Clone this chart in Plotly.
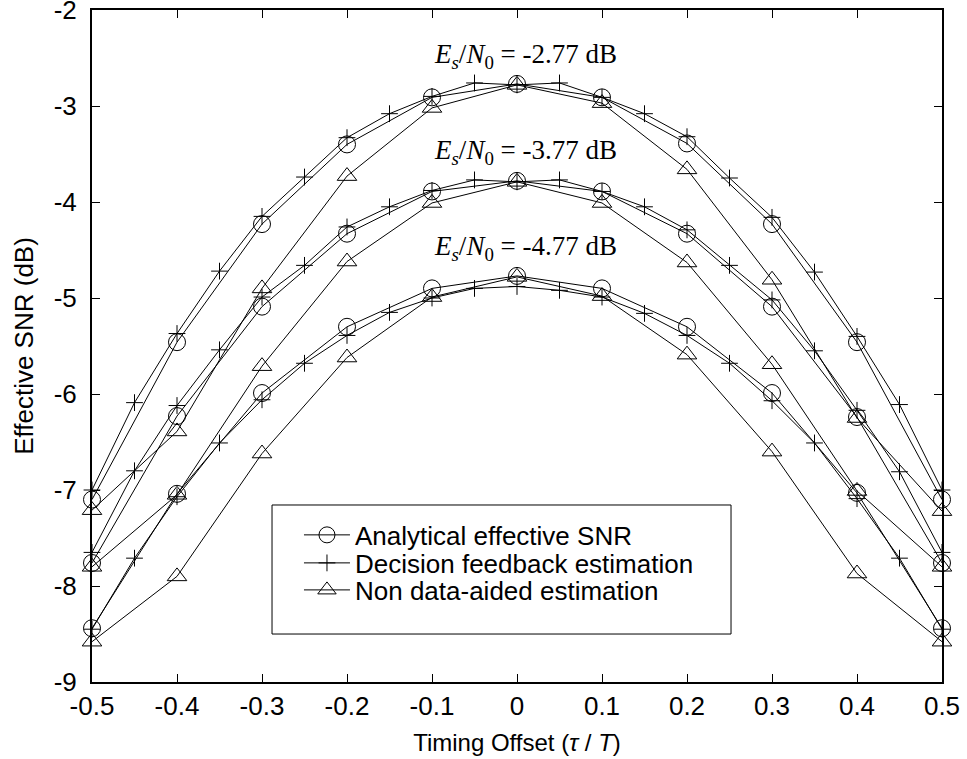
import plotly.graph_objects as go

# ---- data ----
x_ana = [-0.5, -0.4, -0.3, -0.2, -0.1, 0.0, 0.1, 0.2, 0.3, 0.4, 0.5]
x_df = [-0.5, -0.45, -0.4, -0.35, -0.3, -0.25, -0.2, -0.15, -0.1, -0.05, 0.0,
        0.05, 0.1, 0.15, 0.2, 0.25, 0.3, 0.35, 0.4, 0.45, 0.5]
x_nda = [-0.5, -0.4, -0.3, -0.2, -0.1, 0.0, 0.1, 0.2, 0.3, 0.4, 0.5]

ana_277 = [-7.10, -5.46, -4.23, -3.40, -2.91, -2.77, -2.91, -3.39, -4.23, -5.46, -7.10]
ana_377 = [-7.76, -6.23, -5.09, -4.33, -3.89, -3.78, -3.89, -4.33, -5.09, -6.24, -7.76]
ana_477 = [-8.44, -7.04, -5.99, -5.30, -4.90, -4.77, -4.90, -5.30, -5.99, -7.03, -8.44]

df_277 = [-7.00, -6.09, -5.37, -4.72, -4.15, -3.74, -3.33, -3.08, -2.90, -2.76, -2.78,
          -2.76, -2.91, -3.08, -3.32, -3.75, -4.16, -4.73, -5.40, -6.11, -7.00]
df_377 = [-7.65, -6.80, -6.12, -5.54, -4.99, -4.66, -4.26, -4.05, -3.88, -3.77, -3.79,
          -3.77, -3.89, -4.05, -4.29, -4.66, -5.02, -5.55, -6.17, -6.81, -7.65]
df_477 = [-8.45, -7.71, -7.07, -6.51, -6.06, -5.68, -5.39, -5.15, -5.00, -4.90, -4.88,
          -4.92, -4.99, -5.16, -5.39, -5.68, -6.07, -6.51, -7.09, -7.71, -8.45]

nda_277 = [-7.21, -6.39, -4.90, -3.73, -3.02, -2.78, -2.97, -3.66, -4.81, -6.25, -7.22]
nda_377 = [-7.80, -7.05, -5.71, -4.62, -4.01, -3.79, -4.01, -4.63, -5.69, -7.01, -7.80]
nda_477 = [-8.58, -7.90, -6.62, -5.62, -4.99, -4.78, -4.98, -5.59, -6.60, -7.87, -8.58]

snr_labels = ["-2.77", "-3.77", "-4.77"]
label_y = [-2.48, -3.48, -4.48]

x_tickvals = [-0.5, -0.4, -0.3, -0.2, -0.1, 0.0, 0.1, 0.2, 0.3, 0.4, 0.5]
x_ticktext = ["-0.5", "-0.4", "-0.3", "-0.2", "-0.1", "0", "0.1", "0.2", "0.3", "0.4", "0.5"]
y_tickvals = [-2, -3, -4, -5, -6, -7, -8, -9]
y_ticktext = ["-2", "-3", "-4", "-5", "-6", "-7", "-8", "-9"]

series_names = ["Analytical effective SNR", "Decision feedback estimation", "Non data-aided estimation"]

# ---- figure ----
fig = go.Figure()
line_style = dict(color="black", width=1)

groups = [
    (x_ana, [ana_277, ana_377, ana_477], "circle-open", 17, series_names[0], "legend"),
    (x_df, [df_277, df_377, df_477], "cross-thin-open", 12, series_names[1], "legend2"),
    (x_nda, [nda_277, nda_377, nda_477], "triangle-up-open", 17, series_names[2], "legend3"),
]
for xs, ys_list, sym, sz, name, leg in groups:
    for i, ys in enumerate(ys_list):
        fig.add_trace(go.Scatter(
            x=xs, y=ys, mode="lines+markers", name=name,
            legendgroup=name, showlegend=(i == 0), legend=leg,
            line=line_style,
            marker=dict(symbol=sym, size=sz, color="black",
                        line=dict(color="black", width=1)),
            cliponaxis=False,
        ))

for lab, yy in zip(snr_labels, label_y):
    fig.add_annotation(
        x=0.01, y=yy, xref="x", yref="y", showarrow=False,
        text="<i>E<sub>s</sub></i>/<i>N</i><sub>0</sub> = " + lab + " dB",
        font=dict(family="Liberation Serif", size=27, color="black"),
        xanchor="center", yanchor="middle",
    )

# legend frame
fig.add_shape(type="rect", xref="paper", yref="paper",
              x0=0.2118, x1=0.7518, y0=0.0714, y1=0.2634,
              line=dict(color="black", width=1), fillcolor="white", layer="below")

axis_common = dict(
    showgrid=False, zeroline=False, showline=True, linecolor="black", linewidth=2,
    mirror="ticks", ticks="inside", ticklen=8, tickwidth=1, tickcolor="black",
    ticklabeloverflow="allow", automargin=False,
    tickfont=dict(family="Liberation Sans", size=26, color="black"),
)

leg_common = dict(xanchor="left", yanchor="middle", bgcolor="rgba(0,0,0,0)",
                  borderwidth=0, itemwidth=46,
                  font=dict(family="Liberation Sans", size=26, color="black"))

fig.update_layout(
    width=967, height=759,
    margin=dict(l=92, r=25, t=10, b=77),
    paper_bgcolor="white", plot_bgcolor="rgba(0,0,0,0)",
    xaxis=dict(range=[-0.5, 0.5], tickvals=x_tickvals, ticktext=x_ticktext,
               ticklabelstandoff=0,
               title=dict(text="Timing Offset (<i>τ</i> / <i>T</i>)", standoff=14,
                          font=dict(family="Liberation Sans", size=24, color="black")),
               **axis_common),
    yaxis=dict(range=[-9, -2], tickvals=y_tickvals, ticktext=y_ticktext,
               ticklabelstandoff=8,
               title=dict(text="Effective SNR (dB)", standoff=13,
                          font=dict(family="Liberation Sans", size=26, color="black")),
               **axis_common),
    showlegend=True,
    legend=dict(x=0.2435, y=0.2188, **leg_common),
    legend2=dict(x=0.2435, y=0.1771, **leg_common),
    legend3=dict(x=0.2435, y=0.1369, **leg_common),
)

fig.write_html(
    "out.html",
    config={"displayModeBar": False},
    post_script="document.body.style.margin='0';document.body.style.overflow='hidden';",
)
